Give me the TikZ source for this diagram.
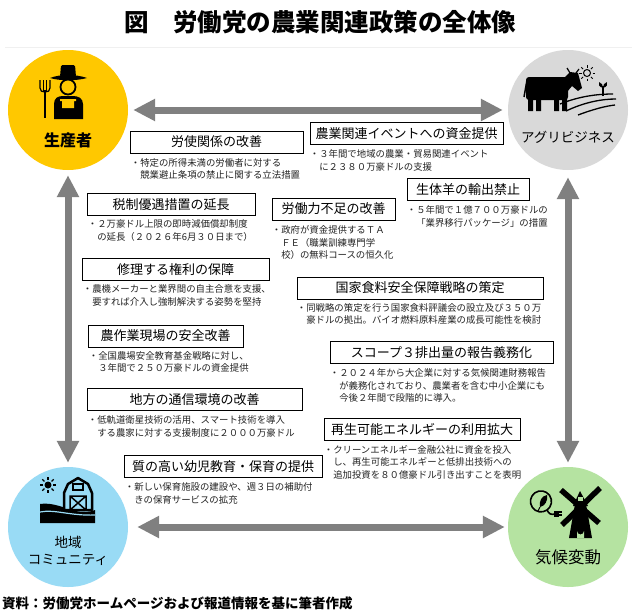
\documentclass[tikz,border=0pt]{standalone}
\usepackage{fontspec}
\setmainfont{Noto Sans CJK JP}
\usepackage{tikz}
\usepackage{xcolor}
\usetikzlibrary{arrows.meta, positioning}

\definecolor{prodyellow}{RGB}{255,200,0}
\definecolor{agrigray}{RGB}{217,217,217}
\definecolor{commblue}{RGB}{153,219,245}
\definecolor{climgreen}{RGB}{181,227,161}
\definecolor{arrowgray}{RGB}{128,128,128}
\definecolor{notegray}{RGB}{35,35,35}
\newcommand{\cont}{\hspace*{1em}}

\begin{document}
\begin{tikzpicture}[x=1pt, y=-1pt,
  hub/.style={circle, minimum size=120pt, inner sep=0pt},
  hubtext/.style={align=center, inner sep=0pt},
  policy/.style={draw=black, line width=0.7pt, fill=white, minimum height=22pt, inner sep=0pt, font=\fontsize{13}{15}\selectfont},
  note/.style={font=\fontsize{9.4}{12.5}\selectfont, text=notegray, align=left, inner sep=0pt},
  link/.style={draw=arrowgray, line width=7pt, {Triangle[width=21pt,length=22pt]}-{Triangle[width=21pt,length=22pt]}}]
\fill[white] (0,0) rectangle (640,614);
\useasboundingbox (0,0) rectangle (640,614);

\node[font=\fontsize{24.5}{28}\selectfont\bfseries] (title) at (320,22) {図　労働党の農業関連政策の全体像};
\draw[black!6, line width=1pt] (5,47) -- (632,47);

% four sides
\node[hub, fill=prodyellow] (prod) at (68,110) {};
\node[hub, fill=agrigray] (agri) at (568,110) {};
\node[hub, fill=commblue] (comm) at (68,527) {};
\node[hub, fill=climgreen] (clim) at (568,527) {};
\node[hubtext, font=\fontsize{16}{18}\selectfont\bfseries] (prodlabel) at (68,140) {生産者};
\node[hubtext, font=\fontsize{13.5}{16}\selectfont] (agrilabel) at (568,137) {アグリビジネス};
\node[hubtext, font=\fontsize{13.5}{17}\selectfont] (commlabel) at (68,551) {地域\\コミュニティ};
\node[hubtext, font=\fontsize{16.5}{18}\selectfont] (climlabel) at (568,557) {気候変動};

\draw[link, shorten <=5pt, shorten >=5pt] (prod) -- (agri);
\draw[link, shorten <=5pt, shorten >=4pt] (prod) -- (comm);
\draw[link, shorten <=7pt, shorten >=4pt] (agri) -- (clim);
\draw[link, shorten <=9pt, shorten >=3pt] (comm) -- (clim);

% farmer
\fill[rounded corners=1.5pt] (60,77) -- (61,65) -- (75,65) -- (76,77) -- cycle;
\fill (50,78) .. controls (60,74) and (76,74) .. (87,78) .. controls (76,81) and (60,81) .. (50,78) -- cycle;
\draw[line width=1.8pt, fill=prodyellow] (68,87) circle (7.5);
\fill (54,119) -- (54,104) .. controls (54,98) and (58,96) .. (63,96) -- (73,96) .. controls (78,96) and (83,98) .. (83,104) -- (83,119) -- cycle;
\fill[prodyellow] (60,99) -- (76,99) -- (76,101) -- (74,101) -- (74,108) -- (62,108) -- (62,101) -- (60,101) -- cycle;
\draw[line width=1.4pt] (45,90) -- (45,118);
\draw[line width=1.2pt] (40,80) -- (40,88) .. controls (40,91) and (42,92) .. (45,92) .. controls (48,92) and (50,91) .. (50,88) -- (50,80);
\draw[line width=1.2pt] (43.5,80) -- (43.5,91) (46.5,80) -- (46.5,91);

% cow
\draw[line width=1.3pt] (560,104) .. controls (580,96) and (598,94) .. (613,94);
\draw[line width=1.3pt] (566,111) .. controls (585,102) and (602,99) .. (616,99);
\draw[line width=1.3pt] (578,115) .. controls (594,109) and (606,106) .. (615,105);
\fill[rounded corners=3pt] (526,77) rectangle (568,100);
\fill (528,98) rectangle (533,111) (536,98) rectangle (541,111) (554,98) rectangle (559,111) (562,98) rectangle (567,111);
\draw[line width=1.5pt] (527,80) -- (524,97);
\fill (564,78) -- (570,72) -- (578,73) -- (582,88) -- (578,91) -- (572,86) -- (567,92) -- cycle;
\draw[line width=1.2pt] (570,73) -- (567,68) (576,73) -- (579,69);
\draw[line width=1pt] (587,73) circle (3.5);
\foreach \a in {0,45,...,315}
  \draw[line width=1pt] ([shift={(\a:5.5)}]587,73) -- ([shift={(\a:8)}]587,73);
\draw[line width=1.2pt] (603,96) -- (603,86);
\fill (603,88) .. controls (599,87) and (598,84) .. (599,82) .. controls (602,83) and (603,85) .. (603,88) -- cycle;
\fill (603,88) .. controls (607,87) and (608,84) .. (607,82) .. controls (604,83) and (603,85) .. (603,88) -- cycle;

% barn
\fill (40,523) -- (40,504) .. controls (52,502) and (64,508) .. (76,511) .. controls (84,513) and (90,512) .. (95,510) -- (95,523) -- cycle;
\draw[commblue, line width=1.2pt] (40,512) .. controls (55,509) and (70,516) .. (95,515);
\draw[line width=2.5pt, line join=round, fill=commblue] (64,510) -- (64,493) -- (68,484) -- (78,478) -- (88,484) -- (92,493) -- (92,510) -- cycle;
\draw[line width=1.5pt] (73,484) rectangle (83,490);
\draw[line width=1.5pt] (70,496) rectangle (86,510) (70,496) -- (86,510) (86,496) -- (70,510);
\fill (48,485) circle (3.5);
\foreach \a in {0,45,...,315}
  \draw[line width=1.2pt] ([shift={(\a:5)}]48,485) -- ([shift={(\a:8)}]48,485);

% windmill
\fill (569,538) -- (575,504) -- (586,504) -- (592,538) -- cycle;
\fill (573,506) -- (580,491) -- (588,506) -- cycle;
\draw[line width=5.5pt] (561,490) -- (599,523) (600,488) -- (562,525);
\fill[climgreen] (577,538) -- (577,531) arc[start angle=180, end angle=0, radius=3.5] -- (584,538) -- cycle;
\fill[climgreen] (578,497) rectangle (583,501);
\draw[line width=1.6pt] (547,510) arc[start angle=55, end angle=415, radius=10.5];
\fill (540,507) .. controls (539,500) and (542,496) .. (547,495) .. controls (548,501) and (545,506) .. (540,507) -- cycle;
\draw[line width=1pt] (540,507) -- (538,511);
\draw[line width=1.6pt] (547,510) .. controls (549,514) and (551,515) .. (555,514);
\fill (554,510.5) rectangle (558.5,516.5);
\draw[line width=1.1pt] (558,512) -- (561.5,512) (558,515) -- (561.5,515);

% policies
\node[policy, minimum width=173pt] (labour) at (216.5,142) {労使関係の改善};
\node[policy, minimum width=193pt] (events) at (406.5,133.5) {農業関連イベントへの資金提供};
\node[policy, minimum width=122pt] (sheep) at (468,189.5) {生体羊の輸出禁止};
\node[policy, minimum width=168pt] (tax) at (171,204.5) {税制優遇措置の延長};
\node[policy, minimum width=123pt] (skills) at (333.5,209) {労働力不足の改善};
\node[policy, minimum width=187pt] (repair) at (175.5,269.5) {修理する権利の保障};
\node[policy, minimum width=246pt] (food) at (420,288) {国家食料安全保障戦略の策定};
\node[policy, minimum width=155pt] (safety) at (165.5,336) {農作業現場の安全改善};
\node[policy, minimum width=223pt] (scope) at (441.5,352.5) {スコープ３排出量の報告義務化};
\node[policy, minimum width=215pt] (comms) at (194.5,399.5) {地方の通信環境の改善};
\node[policy, minimum width=196pt] (energy) at (422,429.5) {再生可能エネルギーの利用拡大};
\node[policy, minimum width=198pt] (care) at (223,466.5) {質の高い幼児教育・保育の提供};

\node[note, below right=5pt and 1pt of labour.south west] (labournote) {・特定の所得未満の労働者に対する\\\cont 競業避止条項の禁止に関する立法措置};
\node[note, below right=5pt and 0pt of events.south west] (eventsnote) {・３年間で地域の農業・貿易関連イベント\\\cont に２３８０万豪ドルの支援};
\node[note, below right=5pt and 0pt of sheep.south west] (sheepnote) {・５年間で１億７００万豪ドルの\\\cont 「業界移行パッケージ」の措置};
\node[note, below right=4pt and 1pt of tax.south west] (taxnote) {・２万豪ドル上限の即時減価償却制度\\\cont の延長（２０２６年6月３０日まで）};
\node[note, below right=5pt and 0pt of skills.south west] (skillsnote) {・政府が資金提供するＴＡ\\\cont ＦＥ（職業訓練専門学\\\cont 校）の無料コースの恒久化};
\node[note, below right=4pt and 1pt of repair.south west] (repairnote) {・農機メーカーと業界間の自主合意を支援、\\\cont 要すれば介入し強制解決する姿勢を堅持};
\node[note, below right=4pt and 0pt of food.south west] (foodnote) {・同戦略の策定を行う国家食料評議会の設立及び３５０万\\\cont 豪ドルの拠出。バイオ燃料原料産業の成長可能性を検討};
\node[note, below right=4pt and 1pt of safety.south west] (safetynote) {・全国農場安全教育基金戦略に対し、\\\cont ３年間で２５０万豪ドルの資金提供};
\node[note, below right=5pt and 0pt of scope.south west] (scopenote) {・２０２４年から大企業に対する気候関連財務報告\\\cont が義務化されており、農業者を含む中小企業にも\\\cont 今後２年間で段階的に導入。};
\node[note, below right=5pt and 1pt of comms.south west] (commsnote) {・低軌道衛星技術の活用、スマート技術を導入\\\cont する農家に対する支援制度に２０００万豪ドル};
\node[note, below right=4pt and 0pt of energy.south west] (energynote) {・クリーンエネルギー金融公社に資金を投入\\\cont し、再生可能エネルギーと低排出技術への\\\cont 追加投資を８０億豪ドル引き出すことを表明};
\node[note, below right=5pt and 1pt of care.south west] (carenote) {・新しい保育施設の建設や、週３日の補助付\\\cont きの保育サービスの拡充};

\node[anchor=west, inner sep=0pt, font=\fontsize{13.5}{16}\selectfont\bfseries] (source) at (2,603) {資料：労働党ホームページおよび報道情報を基に筆者作成};
\end{tikzpicture}
\end{document}
